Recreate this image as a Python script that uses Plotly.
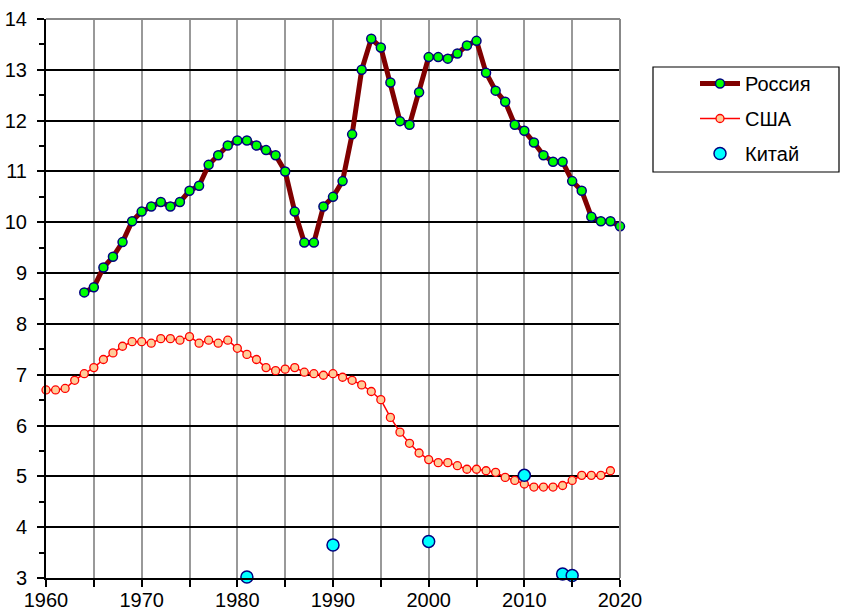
import plotly.graph_objects as go

# Russia: 1964-2020
russia_years = list(range(1964, 2021))
russia_values = [
    8.62, 8.72, 9.11, 9.32, 9.61, 10.02, 10.21, 10.31, 10.40, 10.31,
    10.40, 10.62, 10.72, 11.13, 11.32, 11.51, 11.61, 11.61, 11.51, 11.42,
    11.32, 11.00, 10.21, 9.60, 9.60, 10.31, 10.50, 10.81, 11.73, 13.00,
    13.61, 13.44, 12.75, 11.99, 11.92, 12.56, 13.25, 13.25, 13.22, 13.32,
    13.48, 13.57, 12.94, 12.59, 12.37, 11.92, 11.80, 11.57, 11.32, 11.19,
    11.19, 10.81, 10.62, 10.11, 10.02, 10.02, 9.92,
]

# USA: 1960-2019
usa_years = list(range(1960, 2020))
usa_values = [
    6.70, 6.70, 6.73, 6.89, 7.02, 7.14, 7.30, 7.43, 7.56, 7.65,
    7.65, 7.62, 7.71, 7.71, 7.68, 7.75, 7.62, 7.68, 7.62, 7.68,
    7.52, 7.40, 7.30, 7.14, 7.08, 7.11, 7.14, 7.05, 7.02, 6.99,
    7.02, 6.95, 6.89, 6.80, 6.67, 6.51, 6.16, 5.87, 5.65, 5.46,
    5.33, 5.27, 5.27, 5.21, 5.14, 5.14, 5.11, 5.08, 4.98, 4.92,
    4.85, 4.79, 4.79, 4.79, 4.82, 4.92, 5.02, 5.02, 5.02, 5.11,
]

# China: sparse observations
china_years = [1981, 1990, 2000, 2010, 2014, 2015]
china_values = [3.02, 3.65, 3.72, 5.02, 3.08, 3.05]

x_range = [1960, 2020]
y_range = [3, 14]

FONT = "Liberation Sans, Arial, sans-serif"

fig = go.Figure()

fig.add_trace(go.Scatter(
    x=russia_years, y=russia_values, name="Россия",
    mode="lines+markers", legendgroup="ru",
    line=dict(color="#800000", width=5),
    marker=dict(size=9, color="#00FF00", line=dict(color="#000080", width=1.5)),
    cliponaxis=False,
))
fig.add_trace(go.Scatter(
    x=usa_years, y=usa_values, name="США",
    mode="lines+markers", legendgroup="us",
    line=dict(color="#FF0000", width=1.5),
    marker=dict(size=8, color="#FFCC99", line=dict(color="#FF0000", width=1.3)),
    cliponaxis=False,
))
fig.add_trace(go.Scatter(
    x=china_years, y=china_values, name="Китай",
    mode="markers", legendgroup="cn",
    marker=dict(size=12, color="#00FFFF", line=dict(color="#000080", width=1.5)),
    cliponaxis=False,
))

# plot frame (top and right edges in grey) and legend box
frame_shapes = [
    dict(type="line", xref="paper", yref="paper", x0=0, x1=1, y0=1, y1=1,
         line=dict(color="#888888", width=2), layer="above"),
    dict(type="line", xref="paper", yref="paper", x0=1, x1=1, y0=0, y1=1,
         line=dict(color="#888888", width=2), layer="above"),
    dict(type="rect", xref="paper", yref="paper",
         x0=(653 - 46) / 574, x1=(839 - 46) / 574,
         y0=(578 - 172) / 559, y1=(578 - 67) / 559,
         line=dict(color="#000000", width=1.2), fillcolor="rgba(0,0,0,0)"),
]

fig.update_layout(
    width=841, height=612,
    margin=dict(l=46, r=221, t=19, b=34),
    paper_bgcolor="white", plot_bgcolor="white",
    font=dict(family=FONT, size=20, color="#000000"),
    showlegend=True,
    legend=dict(
        x=(695 - 46) / 574, y=(578 - 64) / 559,
        xanchor="left", yanchor="top",
        bgcolor="rgba(0,0,0,0)", borderwidth=0,
        font=dict(family=FONT, size=20),
        traceorder="grouped", tracegroupgap=6,
        itemwidth=40,
    ),
    shapes=frame_shapes,
    xaxis=dict(
        range=x_range, dtick=10, tick0=1960, automargin=False,
        ticks="outside", ticklen=7, tickwidth=1.5, tickcolor="#000000",
        showline=True, linecolor="#000000", linewidth=2,
        showgrid=True, gridcolor="#999999", gridwidth=1.5,
        zeroline=False,
        minor=dict(dtick=5, tick0=1960, ticks="outside", ticklen=7,
                   tickwidth=1.5, tickcolor="#000000",
                   showgrid=True, gridcolor="#999999", gridwidth=1.5),
        tickfont=dict(size=20),
        ticklabelstandoff=-4,
    ),
    yaxis=dict(
        range=y_range, dtick=1, tick0=3, automargin=False,
        ticks="outside", ticklen=7, tickwidth=1.5, tickcolor="#000000",
        showline=True, linecolor="#000000", linewidth=2,
        showgrid=True, gridcolor="#000000", gridwidth=1.5,
        zeroline=False,
        minor=dict(dtick=0.5, tick0=3, ticks="outside", ticklen=5,
                   tickwidth=1.5, tickcolor="#000000", showgrid=False),
        tickfont=dict(size=20),
        ticklabelstandoff=6,
    ),
)

fig.write_html("out.html")
